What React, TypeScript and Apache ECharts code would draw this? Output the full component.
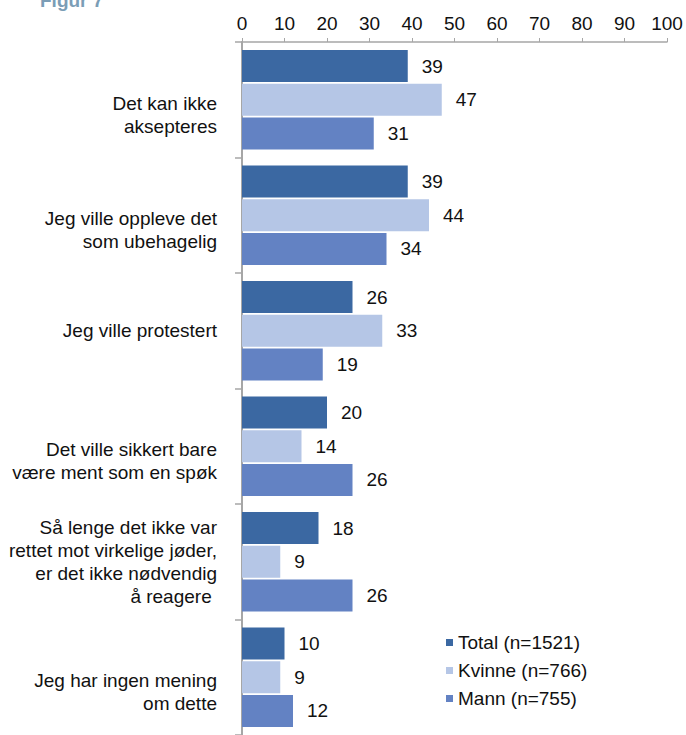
import React, { useEffect, useRef } from "react";
import * as echarts from "echarts";

const categories = [
  "Det kan ikke\naksepteres",
  "Jeg ville oppleve det\nsom ubehagelig",
  "Jeg ville protestert",
  "Det ville sikkert bare\nvære ment som en spøk",
  "Så lenge det ikke var\nrettet mot virkelige jøder,\ner det ikke nødvendig\nå reagere ",
  "Jeg har ingen mening\nom dette",
];
const total = [39, 39, 26, 20, 18, 10];
const kvinne = [47, 44, 33, 14, 9, 9];
const mann = [31, 34, 19, 26, 26, 12];
const seriesNames = ["Total (n=1521)", "Kvinne (n=766)", "Mann (n=755)"];
const colors = ["#3b68a2", "#b5c6e6", "#6382c3"];
const xTicks = { min: 0, max: 100, interval: 10 };

export default function App() {
  const ref = useRef<HTMLDivElement>(null);
  useEffect(() => {
    if (!ref.current) return;
    const chart = echarts.init(ref.current, null, { renderer: "svg" });
    const font = "Liberation Sans, Arial, sans-serif";
    const mk = (name: string, data: number[], color: string) => ({
      name,
      type: "bar",
      data,
      itemStyle: { color },
      barGap: "6%",
      barCategoryGap: "14%",
      label: {
        show: true,
        position: "right",
        distance: 14,
        color: "#111",
        fontSize: 19,
        fontFamily: font,
      },
    });
    chart.setOption({
      animation: false,
      textStyle: { fontFamily: font },
      graphic: [
        {
          type: "text",
          left: 40,
          top: -9,
          style: {
            text: "Figur 7",
            fill: "#7b9db6",
            font: "bold 19px " + font,
          },
        },
      ],
      legend: {
        orient: "vertical",
        left: 441,
        top: 628,
        itemWidth: 7,
        itemHeight: 7,
        itemGap: 9,
        icon: "rect",
        textStyle: { fontSize: 19, color: "#111", fontFamily: font, padding: [0, 0, 0, 0] },
        data: seriesNames,
      },
      grid: { left: 242, right: 19, top: 42, height: 696 },
      xAxis: {
        type: "value",
        position: "top",
        min: xTicks.min,
        max: xTicks.max,
        interval: xTicks.interval,
        splitLine: { show: false },
        axisLine: { show: true, lineStyle: { color: "#a6a6a6", width: 1.5 } },
        axisTick: { show: true, length: 4, lineStyle: { color: "#a6a6a6" } },
        axisLabel: { fontSize: 19, color: "#111", margin: 9, fontFamily: font },
      },
      yAxis: {
        type: "category",
        inverse: true,
        data: categories,
        axisLine: { show: true, lineStyle: { color: "#a6a6a6", width: 2 } },
        axisTick: { show: true, length: 7, lineStyle: { color: "#a6a6a6", width: 1.5 } },
        axisLabel: {
          margin: 25,
          align: "right",
          formatter: (v: string) => {
            const lines = v.split("\n");
            const body = lines.map((l) => `{t|${l}}`).join("\n");
            return lines.length === 2 ? `{s| }\n${body}` : body;
          },
          rich: {
            t: { fontSize: 19, lineHeight: 23, color: "#111", align: "right", fontFamily: font },
            s: { fontSize: 10, lineHeight: 30, align: "right" },
          },
        },
      },
      series: [
        mk(seriesNames[0], total, colors[0]),
        mk(seriesNames[1], kvinne, colors[1]),
        mk(seriesNames[2], mann, colors[2]),
      ],
    });
    return () => chart.dispose();
  }, []);
  return (
    <div style={{ position: "fixed", left: 0, top: 0, width: 686, height: 735, overflow: "hidden", background: "#fff" }}>
      <div ref={ref} style={{ width: 686, height: 735 }} />
    </div>
  );
}
